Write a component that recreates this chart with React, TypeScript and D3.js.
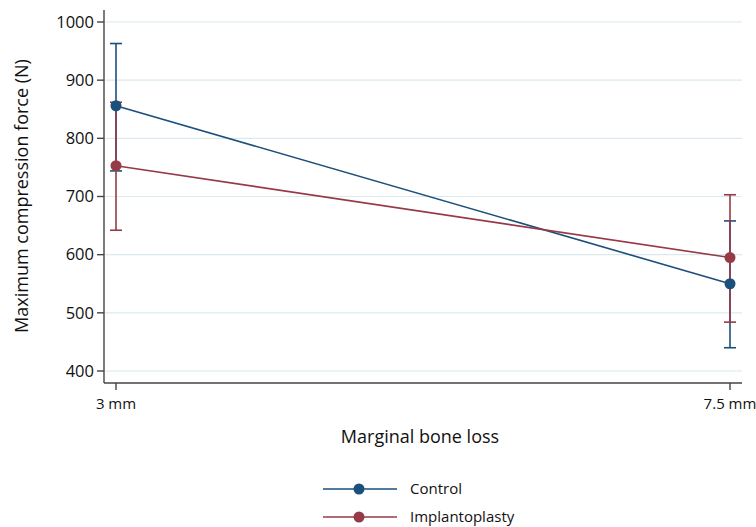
import React from 'react';
import * as d3 from 'd3';

const categories = ['3 mm', '7.5 mm'];
const seriesNames = ['Control', 'Implantoplasty'];
const controlMean = [856, 550];
const controlLow = [744, 440];
const controlHigh = [963, 658];
const implantMean = [753, 595];
const implantLow = [642, 484];
const implantHigh = [862, 703];
const yTicks = [400, 500, 600, 700, 800, 900, 1000];

const colors = ['#1b4f7c', '#963a48'];
const font = "'Open Sans', 'Noto Sans', sans-serif";

export default function App() {
  const width = 756;
  const height = 527;

  const x = d3.scalePoint<string>().domain(categories).range([116, 730]);
  const y = d3.scaleLinear().domain([400, 1000]).range([371, 22]);

  const series = [
    { name: seriesNames[0], mean: controlMean, low: controlLow, high: controlHigh, color: colors[0] },
    { name: seriesNames[1], mean: implantMean, low: implantLow, high: implantHigh, color: colors[1] },
  ];

  const line = d3
    .line<number>()
    .x((_, i) => x(categories[i]) as number)
    .y((d) => y(d));

  const axisY = 383;
  const axisX = 104;
  const plotRight = 742;

  return (
    <svg width={width} height={height} style={{ position: 'absolute', left: 0, top: 0, background: '#fff' }}>
      {/* grid */}
      {yTicks.map((t) => (
        <line key={t} x1={axisX + 1} x2={plotRight} y1={y(t)} y2={y(t)} stroke="#dbeaf0" strokeWidth={1.2} />
      ))}
      {/* y axis */}
      <line x1={axisX} x2={axisX} y1={10} y2={axisY} stroke="#444" strokeWidth={1.4} />
      {yTicks.map((t) => (
        <g key={t}>
          <line x1={axisX - 7} x2={axisX} y1={y(t)} y2={y(t)} stroke="#444" strokeWidth={1.4} />
          <text x={axisX - 10} y={y(t)} dy="0.35em" textAnchor="end" fontFamily={font} fontSize={16.5} fill="#111">
            {t}
          </text>
        </g>
      ))}
      {/* x axis */}
      <line x1={axisX} x2={plotRight} y1={axisY} y2={axisY} stroke="#444" strokeWidth={1.4} />
      {categories.map((c) => (
        <g key={c}>
          <line x1={x(c)} x2={x(c)} y1={axisY} y2={axisY + 7} stroke="#444" strokeWidth={1.4} />
          <text x={x(c)} y={axisY + 26} textAnchor="middle" fontFamily={font} fontSize={15} fill="#111">
            {c}
          </text>
        </g>
      ))}
      {/* axis titles */}
      <text x={420} y={443} textAnchor="middle" fontFamily={font} fontSize={18} fill="#111">
        Marginal bone loss
      </text>
      <text
        transform={`translate(28,196) rotate(-90)`}
        textAnchor="middle"
        fontFamily={font}
        fontSize={18}
        fill="#111"
      >
        Maximum compression force (N)
      </text>
      {/* error bars */}
      {series.map((s) => (
        <g key={s.name + 'err'}>
          {categories.map((c, i) => {
            const cx = x(c) as number;
            return (
              <g key={c}>
                <line x1={cx} x2={cx} y1={y(s.low[i])} y2={y(s.high[i])} stroke={s.color} strokeWidth={1.6} />
                <line x1={cx - 6} x2={cx + 6} y1={y(s.low[i])} y2={y(s.low[i])} stroke={s.color} strokeWidth={1.6} />
                <line x1={cx - 6} x2={cx + 6} y1={y(s.high[i])} y2={y(s.high[i])} stroke={s.color} strokeWidth={1.6} />
              </g>
            );
          })}
        </g>
      ))}
      {/* lines and points */}
      {series.map((s) => (
        <g key={s.name}>
          <path d={line(s.mean) ?? ''} fill="none" stroke={s.color} strokeWidth={1.6} />
          {categories.map((c, i) => (
            <circle key={c} cx={x(c)} cy={y(s.mean[i])} r={5.5} fill={s.color} />
          ))}
        </g>
      ))}
      {/* legend */}
      {series.map((s, i) => {
        const ly = 489 + i * 28;
        return (
          <g key={s.name + 'leg'}>
            <line x1={323} x2={397} y1={ly} y2={ly} stroke={s.color} strokeWidth={1.6} />
            <circle cx={359} cy={ly} r={5.5} fill={s.color} />
            <text x={410} y={ly} dy="0.35em" fontFamily={font} fontSize={15} fill="#111">
              {s.name}
            </text>
          </g>
        );
      })}
    </svg>
  );
}
